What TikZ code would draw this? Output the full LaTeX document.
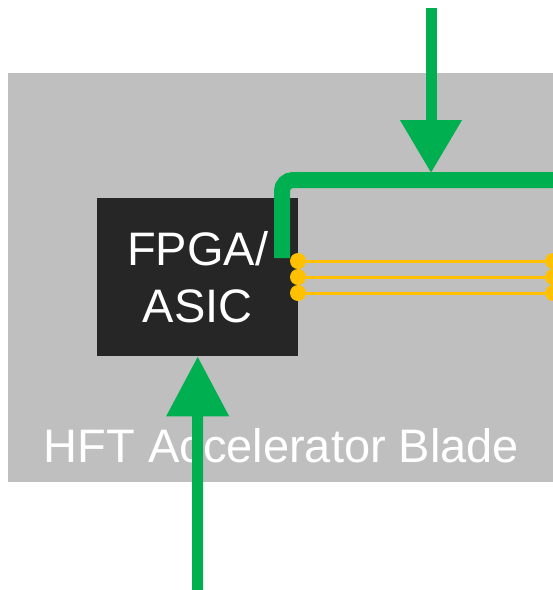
\documentclass[tikz,border=0pt]{standalone}
\usepackage{fontspec}
\setmainfont{Liberation Sans}
\usetikzlibrary{arrows.meta}
\definecolor{bladegray}{HTML}{BFBFBF}
\definecolor{chipblack}{HTML}{262626}
\definecolor{sigreen}{HTML}{00B050}
\definecolor{busyellow}{HTML}{FFC000}
\tikzset{
  bladebox/.style={fill=bladegray, draw=none, inner sep=0pt, anchor=north west},
  chipbox/.style={fill=chipblack, draw=none, text=white, align=center,
    minimum width=201pt, minimum height=158pt, inner sep=0pt, anchor=north west,
    font=\fontsize{47}{57}\selectfont},
  bladelabel/.style={text=white, inner sep=0pt, anchor=base,
    font=\fontsize{47}{57}\selectfont},
  greenarrow/.style={draw=sigreen, line width=11pt},
  bus/.style={draw=sigreen, line width=16pt, rounded corners=11pt},
  yline/.style={draw=busyellow, line width=3pt},
  ydot/.style={circle, fill=busyellow, draw=none, inner sep=0pt, minimum size=16pt},
}
\begin{document}
\begin{tikzpicture}[x=1pt,y=-1pt]
\useasboundingbox (0,0) rectangle (553,590);
% blade
\node[bladebox, minimum width=560pt, minimum height=409pt] (blade) at (8,73) {};
% chip
\node[chipbox] (chip) at (97,198) {FPGA/\\ASIC};
% blade label
\node[bladelabel] (bladelabel) at (281.5,462) {HFT Accelerator Blade};
% yellow bus lines with dots
\foreach \i/\y in {1/261,2/277,3/293}{
  \node[ydot] (yl\i) at (298,\y) {};
  \node[ydot] (yr\i) at (553,\y) {};
  \draw[yline] (yl\i.center) -- (yr\i.center);
}
% green bus
\coordinate (busstart) at (282,258);
\coordinate (buscorner) at (282,180);
\coordinate (busend) at (570,180);
\draw[bus] (busstart) -- (buscorner) -- (busend);
% top arrow
\coordinate (topsrc) at (431,8);
\coordinate (toptip) at (431,173);
\draw[greenarrow, -{Triangle[width=59pt,length=53pt]}] (topsrc) -- (toptip);
% bottom arrow
\coordinate (botsrc) at (197.5,600);
\draw[greenarrow, -{Triangle[width=60pt,length=60pt]}] (botsrc) -- (chip.south);
\end{tikzpicture}
\end{document}
